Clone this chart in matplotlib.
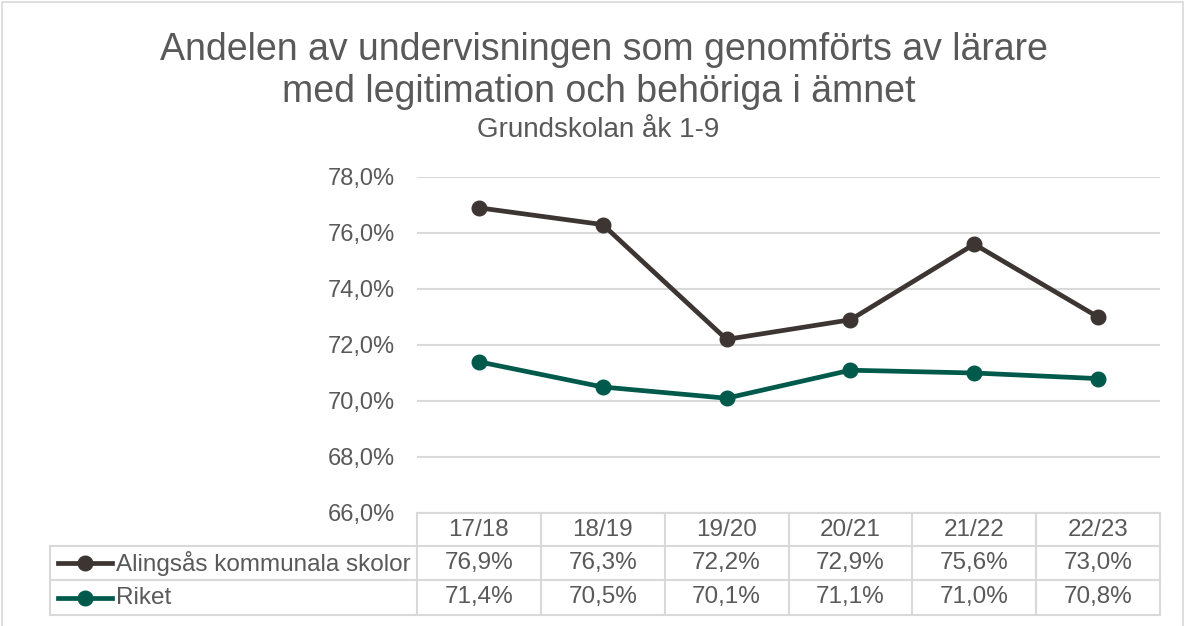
import matplotlib
matplotlib.use("Agg")
import matplotlib.pyplot as plt
from matplotlib.lines import Line2D
from matplotlib.patches import Rectangle

plt.rcParams['font.family'] = ['Liberation Sans', 'DejaVu Sans']

# data
years = ['17/18', '18/19', '19/20', '20/21', '21/22', '22/23']
alingsas = [76.9, 76.3, 72.2, 72.9, 75.6, 73.0]
riket = [71.4, 70.5, 70.1, 71.1, 71.0, 70.8]
series_names = ['Alingsås kommunala skolor', 'Riket']
colors = ['#3d3532', '#005a4b']
txt = '#595959'
grid = '#d9d9d9'

W, H = 1186, 626
fig = plt.figure(figsize=(W / 100, H / 100), dpi=100)

def fx(px):
    return px / W

def fy(py):
    return 1 - py / H

left, right, top, bottom = 417, 1160, 177, 513
ax = fig.add_axes([fx(left), fy(bottom), fx(right) - fx(left), fy(top) - fy(bottom)])

x = list(range(len(years)))
for vals, c in zip([alingsas, riket], colors):
    ax.plot(x, vals, color=c, lw=3.4, marker='o', ms=10.5, solid_capstyle='round', zorder=3)

ax.set_xlim(-0.5, len(years) - 0.5)
ax.set_ylim(66, 78)
ax.set_yticks([66, 68, 70, 72, 74, 76, 78])
ax.set_yticklabels([f'{v:.1f}%'.replace('.', ',') for v in [66, 68, 70, 72, 74, 76, 78]])
ax.tick_params(axis='y', length=0, labelsize=17, colors=txt, pad=16)
ax.set_xticks([])
for s in ax.spines.values():
    s.set_visible(False)
ax.grid(axis='y', color=grid, lw=1.5)
ax.set_axisbelow(True)

# titles
fig.text(fx(604), fy(50), 'Andelen av undervisningen som genomförts av lärare', ha='center', va='center',
         fontsize=27, color=txt)
fig.text(fx(599), fy(92), 'med legitimation och behöriga i ämnet', ha='center', va='center',
         fontsize=27, color=txt)
fig.text(fx(598), fy(130), 'Grundskolan åk 1-9', ha='center', va='center', fontsize=20, color=txt)

# data table
col_w = (right - left) / len(years)
rows_y = [513, 546, 580, 615]
tl = 50

def hline(x0, x1, y):
    fig.add_artist(Line2D([fx(x0), fx(x1)], [fy(y), fy(y)], color=grid, lw=1.5))

def vline(xp, y0, y1):
    fig.add_artist(Line2D([fx(xp), fx(xp)], [fy(y0), fy(y1)], color=grid, lw=1.5))

hline(left, right, rows_y[0])
for yy in rows_y[1:]:
    hline(tl, right, yy)
vline(tl, rows_y[1], rows_y[3])
for i in range(len(years) + 1):
    vline(left + i * col_w, rows_y[0], rows_y[3])

for i, yr in enumerate(years):
    fig.text(fx(left + (i + 0.5) * col_w), fy((rows_y[0] + rows_y[1]) / 2), yr,
             ha='center', va='center', fontsize=17.5, color=txt)

for r, (vals, name, c) in enumerate(zip([alingsas, riket], series_names, colors)):
    yc = (rows_y[r + 1] + rows_y[r + 2]) / 2
    fig.add_artist(Line2D([fx(58), fx(112)], [fy(yc), fy(yc)], color=c, lw=3.4))
    fig.add_artist(Line2D([fx(85)], [fy(yc)], color=c, marker='o', ms=10.5))
    fig.text(fx(116), fy(yc), name, ha='left', va='center', fontsize=17.5, color=txt)
    for i, v in enumerate(vals):
        fig.text(fx(left + (i + 0.5) * col_w), fy(yc), f'{v:.1f}%'.replace('.', ','),
                 ha='center', va='center', fontsize=17.5, color=txt)

# chart frame
fig.add_artist(Rectangle((fx(2), fy(640)), fx(1181), fy(2) - fy(640), fill=False,
                         edgecolor=grid, lw=1.2, transform=fig.transFigure))

fig.savefig('out.png', dpi=100)
